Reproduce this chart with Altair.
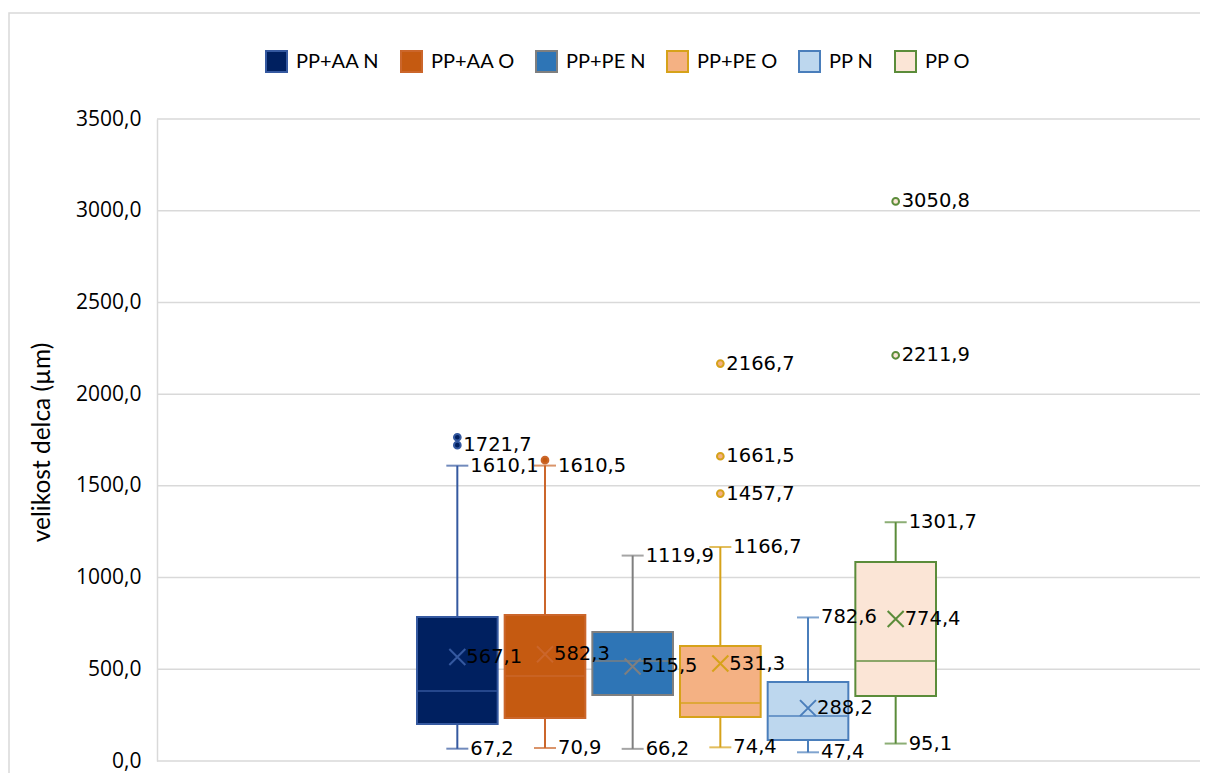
import altair as alt
import pandas as pd

# ---- data ----
series = ["PP+AA N", "PP+AA O", "PP+PE N", "PP+PE O", "PP N", "PP O"]
mins = [67.2, 70.9, 66.2, 74.4, 47.4, 95.1]
q1s = [202.0, 234.0, 360.0, 240.0, 115.0, 354.0]
medians = [382.0, 463.0, 545.0, 316.0, 245.0, 545.0]
q3s = [785.0, 796.0, 703.0, 627.0, 431.0, 1085.0]
maxs = [1610.1, 1610.5, 1119.9, 1166.7, 782.6, 1301.7]
means = [567.1, 582.3, 515.5, 531.3, 288.2, 774.4]

outlier_series = ["PP+AA N", "PP+AA N", "PP+AA O", "PP+PE O", "PP+PE O", "PP+PE O", "PP O", "PP O"]
outlier_values = [1765.0, 1721.7, 1640.0, 2166.7, 1661.5, 1457.7, 3050.8, 2211.9]
outlier_labeled = [False, True, False, True, True, True, True, True]

y_ticks = [0, 500, 1000, 1500, 2000, 2500, 3000, 3500]

# ---- styles ----
fills = ["#002060", "#C55A11", "#2E75B6", "#F4B183", "#BDD7EE", "#FBE5D6"]
strokes = ["#3559A0", "#CB662B", "#7F7F7F", "#D6A21A", "#4A7EBB", "#5B8C3A"]
fill_of = dict(zip(series, fills))
stroke_of = dict(zip(series, strokes))

W, H = 1043, 642

boxes = pd.DataFrame({
    "series": series, "min": mins, "q1": q1s, "median": medians,
    "q3": q3s, "max": maxs, "mean": means,
    "fillc": fills, "strokec": strokes,
})
outl = pd.DataFrame({"series": outlier_series, "value": outlier_values,
                     "labeled": outlier_labeled})
outl["fillc"] = outl["series"].map(fill_of)
outl["strokec"] = outl["series"].map(stroke_of)

whisk_lab = pd.DataFrame({
    "series": series + series,
    "value": mins + maxs,
})
grid_df = pd.DataFrame({"v": y_ticks})

fmt = "replace(format(datum.value, '.1f'), '.', ',')"

xenc = alt.X("series:N", sort=series, axis=None,
             scale=alt.Scale(paddingInner=0.08, paddingOuter=0, round=False,
                             range=[260, 779]))
yscale = alt.Scale(domain=[0, 3500], nice=False)

base = alt.Chart(boxes)

yaxis = alt.Axis(values=y_ticks, labelExpr=fmt, ticks=False, labelPadding=16,
                 grid=False,
                 domain=True, domainColor="#D9D9D9", domainWidth=1.5,
                 labelFont="Open Sans", labelFontSize=21, labelColor="#000000",
                 title="velikost delca (µm)", titleFont="Lato", titleFontSize=24.5,
                 titleFontWeight="normal", titleColor="#000000",
                 titleX=-115, titleY=323, titleAngle=-90,
                 titleAlign="center", titleBaseline="middle")

frame = alt.Chart(pd.DataFrame({"k": [0]})).mark_rect(
    filled=False, fill="transparent", stroke="#D9D9D9", strokeWidth=1.5, clip=False
).encode(x=alt.value(-148), x2=alt.value(W + 40), y=alt.value(-106), y2=alt.value(H + 60))

grid = alt.Chart(grid_df).mark_rule(stroke="#D9D9D9", strokeWidth=1.5).encode(
    y=alt.Y("v:Q", scale=yscale, axis=yaxis),
    x=alt.value(0), x2=alt.value(W),
)

whiskers = base.mark_rule(strokeWidth=2).encode(
    x=xenc,
    y=alt.Y("min:Q", scale=yscale),
    y2="max:Q",
    stroke=alt.Stroke("strokec:N", scale=None),
)

legend_props = dict(orient="none", legendX=108, legendY=-69, direction="horizontal",
                    title=None, symbolType="square", symbolSize=441,
                    symbolStrokeWidth=2, labelFont="Lato", labelFontSize=20,
                    labelColor="#000000", labelOffset=8, columnPadding=17,
                    symbolOpacity=1)

box = base.mark_bar(strokeWidth=2, opacity=1).encode(
    x=xenc,
    y=alt.Y("q1:Q", scale=yscale),
    y2="q3:Q",
    fill=alt.Fill("series:N", sort=series,
                  scale=alt.Scale(domain=series, range=fills),
                  legend=alt.Legend(**legend_props)),
    stroke=alt.Stroke("series:N", sort=series,
                      scale=alt.Scale(domain=series, range=strokes),
                      legend=alt.Legend(**legend_props)),
)

caps_min = base.mark_tick(size=22, thickness=2).encode(
    x=xenc, y=alt.Y("min:Q", scale=yscale),
    color=alt.Color("strokec:N", scale=None))
caps_max = base.mark_tick(size=22, thickness=2).encode(
    x=xenc, y=alt.Y("max:Q", scale=yscale),
    color=alt.Color("strokec:N", scale=None))
median = base.mark_tick(size=79, thickness=2).encode(
    x=xenc, y=alt.Y("median:Q", scale=yscale),
    color=alt.Color("strokec:N", scale=None))

mean_x = base.mark_point(shape="M-1,-1L1,1M-1,1L1,-1", size=256, filled=False,
                         strokeWidth=2, opacity=1).encode(
    x=xenc, y=alt.Y("mean:Q", scale=yscale),
    stroke=alt.Stroke("strokec:N", scale=None))

outlier_pts = alt.Chart(outl).mark_point(shape="circle", size=45, filled=True,
                                         strokeWidth=2, opacity=1).encode(
    x=xenc, y=alt.Y("value:Q", scale=yscale),
    fill=alt.Fill("fillc:N", scale=None),
    stroke=alt.Stroke("strokec:N", scale=None))

txt = dict(align="left", baseline="middle", font="DejaVu Sans", fontSize=19.5,
           color="#000000")

whisk_text = alt.Chart(whisk_lab).transform_calculate(lab=fmt).mark_text(
    dx=13, **txt).encode(x=xenc, y=alt.Y("value:Q", scale=yscale), text="lab:N")

mean_text = base.transform_calculate(value="datum.mean").transform_calculate(
    lab=fmt).mark_text(dx=9, **txt).encode(
    x=xenc, y=alt.Y("mean:Q", scale=yscale), text="lab:N")

out_text = alt.Chart(outl).transform_filter("datum.labeled").transform_calculate(
    lab=fmt).mark_text(dx=6, **txt).encode(
    x=xenc, y=alt.Y("value:Q", scale=yscale), text="lab:N")

chart = alt.layer(
    frame, grid, whiskers, box, caps_min, caps_max, median, mean_x, outlier_pts,
    whisk_text, mean_text, out_text
).properties(
    width=W, height=H,
    autosize=alt.AutoSizeParams(type="none"),
    padding={"left": 149, "top": 111, "right": 0, "bottom": 12},
).configure(background="#FFFFFF").configure_view(stroke=None)

chart.save("out.html", embed_options={"renderer": "svg", "actions": False})
